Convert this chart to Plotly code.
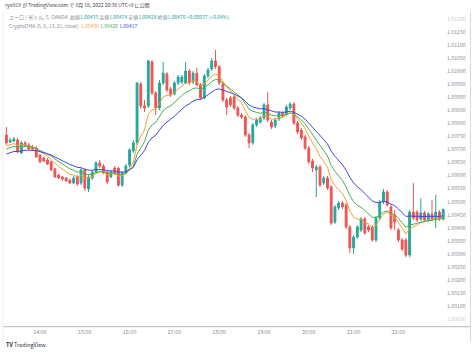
import plotly.graph_objects as go
import pandas as pd

# ---------------- data (EUR/USD 5-min) ----------------
start_time = "2022-09-16 13:15"
n_bars = 118

opens = [1.00756, 1.00729, 1.00733, 1.00737, 1.00687, 1.00726, 1.00718, 1.00710, 1.00706, 1.00679,
         1.00668, 1.00660, 1.00653, 1.00626, 1.00603, 1.00595, 1.00591, 1.00583, 1.00572, 1.00595,
         1.00572, 1.00622, 1.00549, 1.00591, 1.00614, 1.00649, 1.00637, 1.00614, 1.00595, 1.00629,
         1.00629, 1.00564, 1.00610, 1.00641, 1.00695, 1.00726, 1.00952, 1.00868, 1.00868, 1.01037,
         1.00918, 1.00860, 1.00956, 1.00991, 1.00933, 1.00914, 1.00956, 1.00960, 1.00956, 1.01002,
         1.00960, 1.00994, 1.00948, 1.00898, 1.00983, 1.01010, 1.01041, 1.01018, 1.00952, 1.00891,
         1.00898, 1.00902, 1.00860, 1.00833, 1.00825, 1.00756, 1.00726, 1.00795, 1.00806, 1.00822,
         1.00872, 1.00806, 1.00791, 1.00818, 1.00841, 1.00837, 1.00860, 1.00875, 1.00802, 1.00775,
         1.00749, 1.00706, 1.00656, 1.00622, 1.00633, 1.00572, 1.00591, 1.00556, 1.00422, 1.00476,
         1.00495, 1.00487, 1.00403, 1.00322, 1.00364, 1.00391, 1.00434, 1.00403, 1.00403, 1.00353,
         1.00437, 1.00499, 1.00537, 1.00480, 1.00449, 1.00391, 1.00353, 1.00353, 1.00295, 1.00460,
         1.00460, 1.00433, 1.00457, 1.00430, 1.00453, 1.00433, 1.00460, 1.00433]
highs = [1.00787, 1.00745, 1.00749, 1.00745, 1.00733, 1.00733, 1.00726, 1.00718, 1.00714, 1.00683,
         1.00672, 1.00668, 1.00656, 1.00629, 1.00606, 1.00599, 1.00595, 1.00587, 1.00599, 1.00603,
         1.00629, 1.00629, 1.00603, 1.00622, 1.00656, 1.00660, 1.00645, 1.00622, 1.00622, 1.00637,
         1.00633, 1.00618, 1.00645, 1.00706, 1.00737, 1.00960, 1.00960, 1.00891, 1.01044, 1.01044,
         1.00925, 1.00968, 1.01037, 1.00998, 1.00941, 1.00964, 1.00987, 1.00987, 1.01037, 1.01010,
         1.01002, 1.01014, 1.00956, 1.00991, 1.01014, 1.01052, 1.01083, 1.01025, 1.00960, 1.00898,
         1.00906, 1.00910, 1.00868, 1.00841, 1.00833, 1.00764, 1.00802, 1.00822, 1.00829, 1.00879,
         1.00921, 1.00814, 1.00822, 1.00848, 1.00848, 1.00872, 1.00883, 1.00883, 1.00810, 1.00783,
         1.00756, 1.00714, 1.00664, 1.00641, 1.00641, 1.00599, 1.00599, 1.00564, 1.00487, 1.00503,
         1.00503, 1.00495, 1.00410, 1.00372, 1.00410, 1.00441, 1.00441, 1.00410, 1.00410, 1.00445,
         1.00507, 1.00549, 1.00545, 1.00487, 1.00468, 1.00399, 1.00360, 1.00360, 1.00468, 1.00572,
         1.00468, 1.00514, 1.00464, 1.00460, 1.00507, 1.00526, 1.00468, 1.00474]
lows = [1.00718, 1.00726, 1.00729, 1.00687, 1.00683, 1.00710, 1.00699, 1.00699, 1.00668, 1.00649,
        1.00653, 1.00641, 1.00618, 1.00591, 1.00587, 1.00580, 1.00576, 1.00568, 1.00568, 1.00560,
        1.00564, 1.00541, 1.00537, 1.00583, 1.00610, 1.00629, 1.00606, 1.00568, 1.00591, 1.00603,
        1.00556, 1.00556, 1.00606, 1.00633, 1.00687, 1.00718, 1.00856, 1.00845, 1.00860, 1.00910,
        1.00833, 1.00852, 1.00948, 1.00921, 1.00902, 1.00910, 1.00948, 1.00952, 1.00952, 1.00948,
        1.00952, 1.00945, 1.00891, 1.00895, 1.00975, 1.01002, 1.01010, 1.00948, 1.00883, 1.00833,
        1.00864, 1.00852, 1.00825, 1.00818, 1.00749, 1.00706, 1.00718, 1.00787, 1.00799, 1.00814,
        1.00806, 1.00779, 1.00783, 1.00810, 1.00822, 1.00829, 1.00852, 1.00795, 1.00760, 1.00737,
        1.00699, 1.00645, 1.00614, 1.00518, 1.00556, 1.00564, 1.00545, 1.00410, 1.00414, 1.00468,
        1.00472, 1.00395, 1.00303, 1.00299, 1.00357, 1.00384, 1.00372, 1.00384, 1.00345, 1.00345,
        1.00430, 1.00491, 1.00480, 1.00391, 1.00391, 1.00345, 1.00311, 1.00287, 1.00287, 1.00430,
        1.00422, 1.00426, 1.00422, 1.00422, 1.00426, 1.00399, 1.00426, 1.00428]
closes = [1.00726, 1.00737, 1.00741, 1.00691, 1.00726, 1.00714, 1.00702, 1.00702, 1.00672, 1.00653,
          1.00656, 1.00645, 1.00622, 1.00595, 1.00591, 1.00587, 1.00580, 1.00572, 1.00591, 1.00568,
          1.00622, 1.00553, 1.00595, 1.00614, 1.00649, 1.00637, 1.00610, 1.00576, 1.00614, 1.00610,
          1.00564, 1.00610, 1.00637, 1.00699, 1.00726, 1.00956, 1.00868, 1.00860, 1.01041, 1.00918,
          1.00860, 1.00956, 1.00994, 1.00929, 1.00910, 1.00956, 1.00979, 1.00979, 1.01002, 1.00956,
          1.00994, 1.00948, 1.00898, 1.00983, 1.01006, 1.01041, 1.01018, 1.00956, 1.00891, 1.00864,
          1.00872, 1.00860, 1.00833, 1.00825, 1.00756, 1.00726, 1.00795, 1.00814, 1.00822, 1.00872,
          1.00814, 1.00787, 1.00814, 1.00841, 1.00829, 1.00864, 1.00875, 1.00802, 1.00768, 1.00745,
          1.00706, 1.00653, 1.00629, 1.00633, 1.00564, 1.00591, 1.00553, 1.00418, 1.00480, 1.00495,
          1.00480, 1.00403, 1.00322, 1.00364, 1.00403, 1.00434, 1.00380, 1.00391, 1.00353, 1.00437,
          1.00499, 1.00537, 1.00487, 1.00399, 1.00422, 1.00353, 1.00318, 1.00295, 1.00460, 1.00437,
          1.00430, 1.00457, 1.00430, 1.00453, 1.00433, 1.00460, 1.00433, 1.00470]

# moving-average settings (periods and the values where the lines enter the chart)
ma_periods = [8, 13, 21]
ma_seeds = [1.00710, 1.00699, 1.00679]
ma_colors = ["#f7a035", "#4caf50", "#4347d9"]
ma_header_values = ["1.00439", "1.00426", "1.00417"]

y_tick_values = [round(1.00050 + 0.0005 * k, 5) for k in range(24)]
x_tick_hours = ["14:00", "15:00", "16:00", "17:00", "18:00", "19:00", "20:00", "21:00", "22:00"]

header_title = "ryo919 が TradingView.com で 9月 18, 2022 20:38 UTC+9 に公開"
symbol_label = "ユーロ / 米ドル, 5, OANDA"
ohlc_labels = ["始値", "高値", "安値", "終値"]
change_text = "+0.00037 (+0.04%)"
indicator_label = "CryptoDMA (5, 8, 13, 21, close)"

# ---------------- figure ----------------
times = pd.date_range(start_time, periods=n_bars, freq="5min")
UP, DOWN = "#26a69a", "#ef5350"

fig = go.Figure()
fig.add_trace(go.Candlestick(
    x=times, open=opens, high=highs, low=lows, close=closes,
    increasing=dict(line=dict(color=UP, width=1), fillcolor=UP),
    decreasing=dict(line=dict(color=DOWN, width=1), fillcolor=DOWN),
    whiskerwidth=0, showlegend=False, hoverinfo="skip"))


def ema(values, period, seed):
    a = 2.0 / (period + 1)
    out, e = [], seed
    for v in values:
        e = e + a * (v - e)
        out.append(e)
    return out


for p, s, c in zip(ma_periods, ma_seeds, ma_colors):
    fig.add_trace(go.Scatter(x=times, y=ema(closes, p, s), mode="lines",
                             line=dict(color=c, width=1), showlegend=False,
                             hoverinfo="skip"))

day = times[0].strftime("%Y-%m-%d")
x_tick_vals = [pd.Timestamp(f"{day} {h}") for h in x_tick_hours]

# plot area: x 3..446 px, y 14..327 px
L, R, T, B = 3, 446, 14, 327
W, H = 474, 352
px_per_hour = 44.8
t14 = pd.Timestamp(f"{day} 14:00")
x0 = t14 + pd.Timedelta(hours=(L - 40) / px_per_hour)
x1 = t14 + pd.Timedelta(hours=(R - 40) / px_per_hour)
per_px = 1 / 26026.0
y_at_2147 = 1.00450
y_top = y_at_2147 + (214.7 - T) * per_px
y_bot = y_at_2147 - (B - 214.7) * per_px

tick_col = "#8a8d96"
faded = "#c9cbd0"
y_tick_text = []
for k, v in enumerate(y_tick_values):
    s = f"{v:.5f}"
    if k == 0 or k == len(y_tick_values) - 1:
        s = f"<span style='color:{faded}'>{s}</span>"
    y_tick_text.append(s)

fig.update_layout(
    width=W, height=H,
    margin=dict(l=L, r=W - R, t=T, b=H - B),
    paper_bgcolor="white", plot_bgcolor="white",
    font=dict(family="Noto Sans CJK JP, Noto Sans, sans-serif", color="#333"),
    xaxis=dict(range=[x0, x1], rangeslider=dict(visible=False), showgrid=False,
               zeroline=False, tickvals=x_tick_vals, ticktext=x_tick_hours,
               tickfont=dict(size=5.5, color=tick_col), ticks="", showline=False),
    yaxis=dict(range=[y_bot, y_top], side="right", showgrid=False, zeroline=False,
               tickvals=y_tick_values, ticktext=y_tick_text, ticks="",
               tickfont=dict(size=5.2, color=tick_col), showline=False),
)


def px_x(px):
    return (px - L) / (R - L)


def px_y(py):
    return (B - py) / (B - T)


border = "#d6d7db"
# pane bottom line, right border of price scale, left pane border
fig.add_shape(type="line", xref="paper", yref="paper", x0=px_x(3), x1=px_x(470),
              y0=px_y(326.7), y1=px_y(326.7), line=dict(color="#b9bbc1", width=1))
fig.add_shape(type="line", xref="paper", yref="paper", x0=px_x(470.5), x1=px_x(470.5),
              y0=px_y(341), y1=px_y(12), line=dict(color=border, width=1))
fig.add_shape(type="line", xref="paper", yref="paper", x0=px_x(3), x1=px_x(3),
              y0=px_y(341), y1=px_y(12), line=dict(color="#eeeeef", width=1))

val_col = UP
lab = "#8a8d96"
line2 = (f"<span style='color:{lab}'>{symbol_label}</span>  "
         f"<span style='color:{lab}'>{ohlc_labels[0]}</span><span style='color:{val_col}'>{opens[-1]:.5f}</span> "
         f"<span style='color:{lab}'>{ohlc_labels[1]}</span><span style='color:{val_col}'>{highs[-1]:.5f}</span> "
         f"<span style='color:{lab}'>{ohlc_labels[2]}</span><span style='color:{val_col}'>{lows[-1]:.5f}</span> "
         f"<span style='color:{lab}'>{ohlc_labels[3]}</span><span style='color:{val_col}'>{closes[-1]:.5f}</span> "
         f"<span style='color:{val_col}'>{change_text}</span>")
line3 = (f"<span style='color:{lab}'>{indicator_label}</span>  " +
         " ".join(f"<span style='color:{c}'>{v}</span>" for c, v in zip(ma_colors, ma_header_values)))

fig.add_annotation(xref="paper", yref="paper", x=px_x(3), y=px_y(5.5), text=header_title,
                   showarrow=False, xanchor="left", yanchor="middle",
                   font=dict(size=5, color="#3a3e49"))
fig.add_annotation(xref="paper", yref="paper", x=px_x(7), y=px_y(17), text=line2,
                   showarrow=False, xanchor="left", yanchor="middle", font=dict(size=5))
fig.add_annotation(xref="paper", yref="paper", x=px_x(7), y=px_y(26), text=line3,
                   showarrow=False, xanchor="left", yanchor="middle", font=dict(size=5))
fig.add_annotation(xref="paper", yref="paper", x=px_x(4), y=px_y(345), text="<b>TV</b> TradingView",
                   showarrow=False, xanchor="left", yanchor="middle",
                   font=dict(size=5.5, color="#2a2e39"))

fig.write_html("out.html")
